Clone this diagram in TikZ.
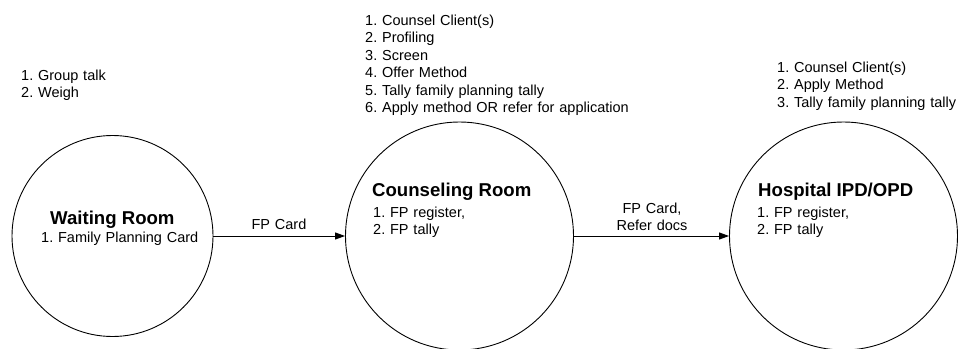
\documentclass[tikz,border=0pt]{standalone}
\usepackage{fontspec}
\setmainfont{Liberation Sans}
\usetikzlibrary{arrows.meta}
\setlength{\parindent}{0pt}
\frenchspacing
\begin{document}
\begin{tikzpicture}[x=1pt,y=-1pt,
  room/.style={circle,draw=black,line width=0.9pt,inner sep=0pt,minimum size=#1},
  roomtitle/.style={anchor=base west,inner sep=0pt,font=\bfseries\fontsize{18.6}{22}\selectfont},
  steplist/.style={anchor=base west,inner sep=0pt,align=left,text width=320pt,
    font=\frenchspacing\fontsize{14.5}{17.5}\selectfont},
  flow/.style={draw=black,line width=0.9pt,-{Triangle[length=10pt,width=7pt]}},
  flowlabel/.style={anchor=base,inner sep=0pt,align=center,text width=120pt,
    font=\frenchspacing\fontsize{14.5}{17}\selectfont}]
\useasboundingbox (0,0) rectangle (958,348);

% the three rooms
\node[room=201pt] (waiting) at (112.5,236) {};
\node[room=228pt] (counsel) at (459.5,236) {};
\node[room=228pt] (hospital) at (843.5,236) {};

% activities carried out in each room
\node[steplist] (waitingtasks) at (21,80) {1. Group talk\\2. Weigh};
\node[steplist] (counseltasks) at (365,25) {1. Counsel Client(s)\\2. Profiling\\3. Screen\\4. Offer Method\\5. Tally family planning tally\\6. Apply method OR refer for application};
\node[steplist] (hospitaltasks) at (777,72) {1. Counsel Client(s)\\2. Apply Method\\3. Tally family planning tally};

% room names and their records
\node[roomtitle] (waitingname) at (50,224) {Waiting Room};
\node[steplist] (waitingdocs) at (41,242.5) {1. Family Planning Card};
\node[roomtitle] (counselname) at (372,196.7) {Counseling Room};
\node[steplist] (counseldocs) at (373,217.3) {1. FP register,\\2. FP tally};
\node[roomtitle] (hospitalname) at (758,196.7) {Hospital IPD/OPD};
\node[steplist] (hospitaldocs) at (757,217.3) {1. FP register,\\2. FP tally};

% documents passed between rooms
\draw[flow] (waiting) -- (counsel);
\draw[flow] (counsel) -- (hospital);
\node[flowlabel] (card) at (279,229) {FP Card};
\node[flowlabel] (referral) at (652,213) {FP Card,\\Refer docs};
\end{tikzpicture}
\end{document}
